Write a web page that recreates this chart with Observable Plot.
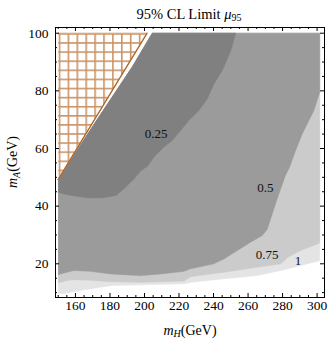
<!DOCTYPE html>
<html><head><meta charset="utf-8">
<script src="https://cdn.jsdelivr.net/npm/d3@7"></script>
<script src="https://cdn.jsdelivr.net/npm/@observablehq/plot@0.6"></script>
<style>html,body{margin:0;padding:0;background:#fff} svg{display:block}</style>
</head><body><div id="chart"></div>
<script>
// ---- data (mH in GeV, mA in GeV) ----
const xTicks = [160, 180, 200, 220, 240, 260, 280, 300];
const yTicks = [20, 40, 60, 80, 100];
const levelLabels = ["0.25", "0.5", "0.75", "1"];
const levelLabelPos = [[206.7, 65.2], [270.1, 46.3], [271.1, 23.0], [288.9, 20.9]];
const xMaxData = 301.5, yMaxData = 100;
// left (kinematic) edge of computed region
const dataEdge = [[150, 49.3], [172, 69.5], [193, 88.4], [204.5, 100]];
// excluded (hatched) region
const excluded = [[150, 49.3], [201.5, 100], [150, 100]];
// contour lines
const c100 = [[150, 10], [152.3, 9.6], [166, 11.1], [181.3, 12.5], [198, 12.7], [222.8, 13.1], [227, 13.6], [246, 14.8], [265, 15.9], [279, 17.7], [301.5, 21.1]];
const c075 = [[150, 13.4], [155, 14.2], [159, 14.5], [168.7, 14.3], [180, 13.8], [198, 13.6], [222.8, 14.0], [227, 15.6], [246, 17.1], [265, 18.8], [279, 20.0], [283, 22.3], [290.4, 24.6], [301.5, 27.2]];
const c050 = [[150, 16.3], [159, 17.7], [168.7, 17.4], [180.3, 16.5], [197.7, 15.9], [209.3, 16.5], [222.8, 17.4], [226.6, 18.3], [240.1, 20.0], [246, 21.7], [261.4, 27.5], [268.2, 29.8], [271.1, 32.0], [276.5, 42.0], [281.5, 50.5], [284, 53.5], [287.5, 59.3], [291.4, 65.1], [298.1, 73.2], [301.5, 79.5]];
const c025 = [[150, 44.8], [155, 44.0], [160, 43.5], [167, 42.9], [176, 42.9], [183.5, 43.7], [188, 46.0], [194, 49.5], [198, 52.4], [201.6, 53.8], [205.4, 57.0], [211.2, 60.5], [216, 62.8], [221, 66.3], [226, 70.0], [231.5, 73.2], [236.3, 77.2], [240.2, 82.4], [245, 87.0], [250, 94.0], [252.8, 100]];

const edgeRev = dataEdge.slice().reverse();
const region100 = [...c100, [xMaxData, yMaxData], ...edgeRev];
const region075 = [...c075, [xMaxData, yMaxData], ...edgeRev];
const region050 = [...c050, [xMaxData, yMaxData], ...edgeRev];
const region025 = [...c025, ...edgeRev];

const W = 334, H = 339, mL = 55, mR = 10, mT = 27, mB = 42;
const fW = W - mL - mR, fH = H - mT - mB;
const majLen = 4, minLen = 2;
const xMinor = d3.range(150, 305, 5).filter(v => !xTicks.includes(v));
const yMinor = d3.range(10, 101, 5).filter(v => !yTicks.includes(v));

const poly = (pts, fill) => Plot.line(pts, {fill, stroke: fill, strokeWidth: 0.6, curve: "linear"});

const plot = Plot.plot({
  width: W, height: H,
  marginLeft: mL, marginRight: mR, marginTop: mT, marginBottom: mB,
  style: {fontFamily: "'Liberation Serif', 'Times New Roman', serif", fontSize: "13.5px", background: "#fff", color: "#000"},
  x: {domain: [148.44, 304.29], label: null},
  y: {domain: [8.31, 101.98], label: null},
  marks: [
    poly(region100, "#e4e4e4"),
    poly(region075, "#cbcbcb"),
    poly(region050, "#9b9b9b"),
    poly(region025, "#808080"),
    Plot.line(excluded, {fill: "url(#hatch)", stroke: "#d3a87c", strokeWidth: 1}),
    Plot.line(excluded.slice(0, 2), {stroke: "#b06a2c", strokeWidth: 1.3}),
    Plot.text(levelLabels, {x: (d, i) => levelLabelPos[i][0], y: (d, i) => levelLabelPos[i][1], text: d => d, fontSize: 13, fill: "#111"}),
    // frame ticks (inward) on all four sides
    Plot.tickX(xTicks, {x: d => d, insetTop: fH - majLen, stroke: "#000"}),
    Plot.tickX(xMinor, {x: d => d, insetTop: fH - minLen, stroke: "#000"}),
    Plot.tickX(xTicks, {x: d => d, insetBottom: fH - majLen, stroke: "#000"}),
    Plot.tickX(xMinor, {x: d => d, insetBottom: fH - minLen, stroke: "#000"}),
    Plot.tickY(yTicks, {y: d => d, insetRight: fW - majLen, stroke: "#000"}),
    Plot.tickY(yMinor, {y: d => d, insetRight: fW - minLen, stroke: "#000"}),
    Plot.tickY(yTicks, {y: d => d, insetLeft: fW - majLen, stroke: "#000"}),
    Plot.tickY(yMinor, {y: d => d, insetLeft: fW - minLen, stroke: "#000"}),
    Plot.axisX(xTicks, {tickSize: 0, tickPadding: 3, label: null}),
    Plot.axisY(yTicks, {tickSize: 0, tickPadding: 7, label: null}),
    Plot.frame({stroke: "#000", strokeWidth: 1})
  ]
});
document.getElementById("chart").appendChild(plot);

const svg = d3.select(plot);
const defs = svg.insert("defs", ":first-child");
const pat = defs.append("pattern").attr("id", "hatch").attr("patternUnits", "userSpaceOnUse")
  .attr("x", 58.2).attr("y", 32.6).attr("width", 8.9).attr("height", 9.1);
pat.append("rect").attr("width", 8.9).attr("height", 9.1).attr("fill", "#fff");
pat.append("path").attr("d", "M0.8,0V9.1M0,0.8H8.9").attr("stroke", "#c99466").attr("stroke-width", 1.6).attr("fill", "none");

const font = "'Liberation Serif', 'Times New Roman', serif";
// title
const t = svg.append("text").attr("x", 189).attr("y", 18.5).attr("text-anchor", "middle")
  .attr("font-family", font).attr("font-size", 14.5).attr("fill", "#000");
t.append("tspan").text("95% CL Limit ");
t.append("tspan").attr("font-style", "italic").text("μ");
t.append("tspan").attr("font-size", 10).attr("dy", 2.5).text("95");
// x label
const xl = svg.append("text").attr("x", 190).attr("y", 334.5).attr("text-anchor", "middle")
  .attr("font-family", font).attr("font-size", 14).attr("fill", "#000");
xl.append("tspan").attr("font-style", "italic").text("m");
xl.append("tspan").attr("font-style", "italic").attr("font-size", 10).attr("dy", 2.5).text("H");
xl.append("tspan").attr("dy", -2.5).text("(GeV)");
// y label
const yl = svg.append("text").attr("transform", "translate(17,162) rotate(-90)").attr("text-anchor", "middle")
  .attr("font-family", font).attr("font-size", 14).attr("fill", "#000");
yl.append("tspan").attr("font-style", "italic").text("m");
yl.append("tspan").attr("font-style", "italic").attr("font-size", 10).attr("dy", 2.5).text("A");
yl.append("tspan").attr("dy", -2.5).text("(GeV)");
</script>
</body></html>
